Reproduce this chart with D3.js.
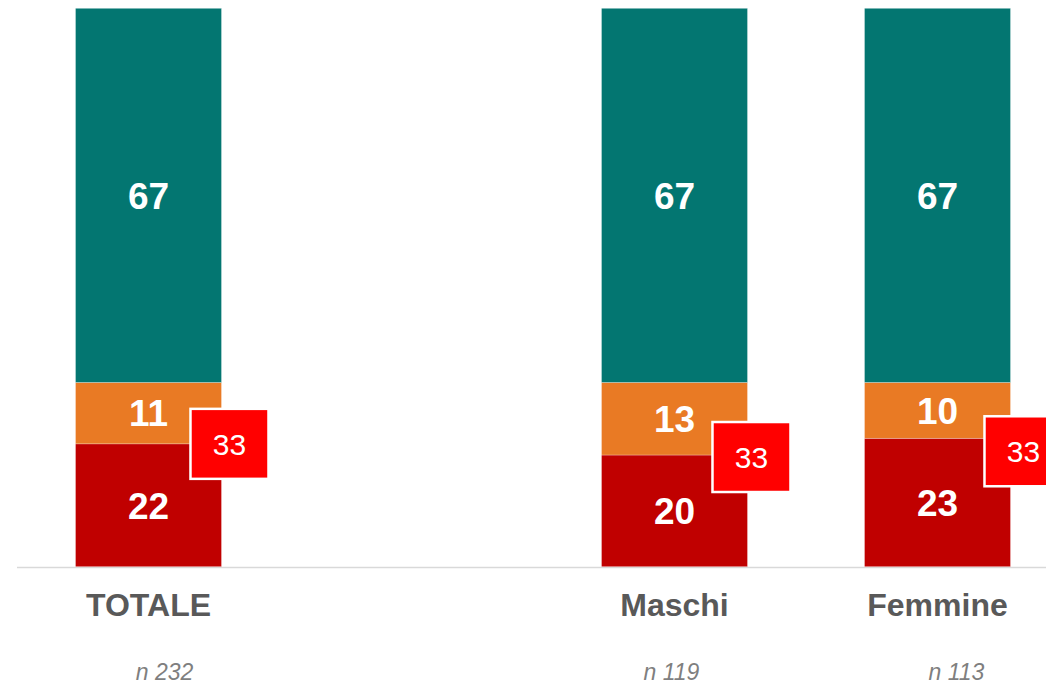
<!DOCTYPE html>
<html>
<head>
<meta charset="utf-8">
<script src="https://cdn.jsdelivr.net/npm/d3@7.9.0/dist/d3.min.js"></script>
<style>
  html, body { margin: 0; padding: 0; background: #fff; }
  svg { display: block; font-family: Arial, "Liberation Sans", sans-serif; }
</style>
</head>
<body>
<div id="chart"></div>
<script>
// ---------- Data ----------
const categories = ["TOTALE", "_gap", "Maschi", "Femmine"];
const sampleSizes = ["n 232", "", "n 119", "n 113"];
const redValues = [22, null, 20, 23];
const orangeValues = [11, null, 13, 10];
const tealValues = [67, null, 67, 67];
const boxTotals = [33, null, 33, 33];

// ---------- Layout ----------
const width = 1046;
const height = 685;
const baseline = 566.7;
const top100 = 8.3;
// manual nudges as placed on the original slide (px, per category slot)
const boxNudgeX = [0, 0, -4, 5];
const boxNudgeY = [0, 0, 2, 13];
const nLabelNudgeX = [16, 0, -3, 19];

const colors = { red: "#c00000", orange: "#e97a24", teal: "#037671", box: "#ff0000" };

const svg = d3.select("#chart")
  .append("svg")
  .attr("width", width)
  .attr("height", height);

const x = d3.scaleBand()
  .domain(categories)
  .range([17, 1069])
  .paddingInner(0.445)
  .paddingOuter(0.2225);

const y = d3.scaleLinear().domain([0, 100]).range([baseline, top100]);

// build stacked rows
const rows = categories.map((c, i) => ({
  cat: c, idx: i,
  red: redValues[i], orange: orangeValues[i], teal: tealValues[i],
  total: boxTotals[i]
})).filter((d) => d.red != null);

const stack = d3.stack().keys(["red", "orange", "teal"]);
const series = stack(rows);

// baseline axis
svg.append("line")
  .attr("x1", 17).attr("x2", width)
  .attr("y1", baseline + 0.8).attr("y2", baseline + 0.8)
  .attr("stroke", "#d9d9d9")
  .attr("stroke-width", 1.5);

const layers = svg.selectAll("g.layer")
  .data(series)
  .join("g")
  .attr("class", "layer")
  .attr("fill", (s) => colors[s.key]);

layers.selectAll("rect")
  .data((s) => s)
  .join("rect")
  .attr("x", (d) => x(d.data.cat))
  .attr("width", x.bandwidth())
  .attr("y", (d) => y(d[1]))
  .attr("height", (d) => y(d[0]) - y(d[1]))
  .attr("stroke", "rgba(255,255,255,0.45)")
  .attr("stroke-width", 0.6);

// segment labels
layers.selectAll("text")
  .data((s) => s.map((d) => ({ d, key: s.key })))
  .join("text")
  .attr("x", (o) => x(o.d.data.cat) + x.bandwidth() / 2)
  .attr("y", (o) => (y(o.d[0]) + y(o.d[1])) / 2)
  .attr("dy", "0.36em")
  .attr("text-anchor", "middle")
  .attr("fill", "#fff")
  .attr("font-weight", "bold")
  .attr("font-size", 37)
  .text((o) => o.d.data[o.key]);

// callout boxes with red+orange total
const boxW = 78, boxH = 70;
const boxes = svg.selectAll("g.box")
  .data(rows)
  .join("g")
  .attr("class", "box")
  .attr("transform", (d) => {
    const bx = x(d.cat) + x.bandwidth() - 31 + boxNudgeX[d.idx];
    const by = y(d.red) - boxH / 2 + boxNudgeY[d.idx];
    return `translate(${bx},${by})`;
  });

boxes.append("rect")
  .attr("width", boxW)
  .attr("height", boxH)
  .attr("fill", colors.box)
  .attr("stroke", "#fff")
  .attr("stroke-width", 2.5);

boxes.append("text")
  .attr("x", boxW / 2)
  .attr("y", boxH / 2)
  .attr("dy", "0.36em")
  .attr("text-anchor", "middle")
  .attr("fill", "#fff")
  .attr("font-size", 30)
  .text((d) => d.total);

// category labels
const labelled = categories
  .map((c, i) => ({ c, i, n: sampleSizes[i] }))
  .filter((d) => d.c !== "_gap");

svg.selectAll("text.cat")
  .data(labelled)
  .join("text")
  .attr("class", "cat")
  .attr("x", (d) => x(d.c) + x.bandwidth() / 2)
  .attr("y", 616)
  .attr("text-anchor", "middle")
  .attr("fill", "#595959")
  .attr("font-weight", "bold")
  .attr("font-size", 32)
  .text((d) => d.c);

svg.selectAll("text.n")
  .data(labelled)
  .join("text")
  .attr("class", "n")
  .attr("x", (d) => x(d.c) + x.bandwidth() / 2 + nLabelNudgeX[d.i])
  .attr("y", 680)
  .attr("text-anchor", "middle")
  .attr("fill", "#7f7f7f")
  .attr("font-style", "italic")
  .attr("font-size", 23)
  .text((d) => d.n);
</script>
</body>
</html>
